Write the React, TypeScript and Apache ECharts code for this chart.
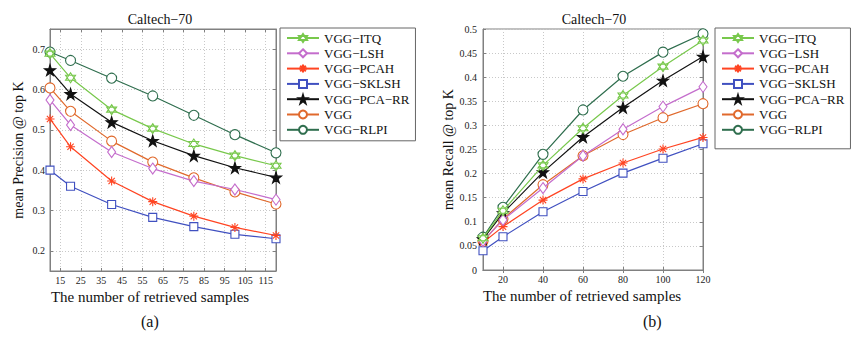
import React, { useEffect, useRef } from "react";
import * as echarts from "echarts";

const names = ["VGG−ITQ", "VGG−LSH", "VGG−PCAH", "VGG−SKLSH", "VGG−PCA−RR", "VGG", "VGG−RLPI"];
const xValues = [10, 20, 40, 60, 80, 100, 120];
const leftXTicks = [15, 25, 35, 45, 55, 65, 75, 85, 95, 105, 115];
const leftYTicks = [0.2, 0.3, 0.4, 0.5, 0.6, 0.7];
const rightXTicks = [20, 40, 60, 80, 100, 120];

const precision: number[][] = [
  [0.689, 0.629, 0.55, 0.503, 0.465, 0.436, 0.411],
  [0.574, 0.512, 0.445, 0.404, 0.373, 0.352, 0.327],
  [0.527, 0.458, 0.373, 0.322, 0.286, 0.258, 0.238],
  [0.4, 0.36, 0.315, 0.283, 0.26, 0.241, 0.23],
  [0.648, 0.589, 0.519, 0.473, 0.436, 0.406, 0.382],
  [0.604, 0.546, 0.472, 0.42, 0.381, 0.346, 0.316],
  [0.693, 0.672, 0.628, 0.584, 0.536, 0.488, 0.443],
];

const recall: number[][] = [
  [0.066, 0.123, 0.217, 0.294, 0.362, 0.422, 0.476],
  [0.06, 0.104, 0.17, 0.237, 0.292, 0.339, 0.38],
  [0.057, 0.09, 0.145, 0.189, 0.222, 0.251, 0.275],
  [0.04, 0.069, 0.121, 0.163, 0.201, 0.232, 0.262],
  [0.064, 0.118, 0.203, 0.276, 0.337, 0.393, 0.443],
  [0.059, 0.106, 0.177, 0.237, 0.281, 0.316, 0.345],
  [0.068, 0.13, 0.24, 0.332, 0.402, 0.452, 0.49],
];

const colors = ["#78c84c", "#c46dcc", "#ff4422", "#4050c0", "#111111", "#e0692c", "#2f6e4e"];

const HEXAGRAM = "path://M5 0 L9.33 7.5 L0.67 7.5 Z M5 10 L0.67 2.5 L9.33 2.5 Z";
const ASTERISK = "path://M5 0 L5 10 M0 5 L10 5 M1.5 1.5 L8.5 8.5 M8.5 1.5 L1.5 8.5";
const PENTAGRAM =
  "path://M5 0 L6.123 3.455 L9.755 3.455 L6.816 5.59 L7.939 9.045 L5 6.91 L2.061 9.045 L3.184 5.59 L0.245 3.455 L3.877 3.455 Z";

const symbols = [HEXAGRAM, "diamond", ASTERISK, "rect", PENTAGRAM, "circle", "circle"];
const symbolSizes: any[] = [10, [8, 11], 9, 8, 11, 10, 10];

const FONT = "Liberation Serif";

export default function App() {
  const ref = useRef<HTMLDivElement>(null);
  useEffect(() => {
    document.body.style.margin = "0";
    const chart = echarts.init(ref.current!, null, { renderer: "svg" });
    const grids = [
      { left: 50, top: 29, width: 226, height: 242 },
      { left: 483, top: 29, width: 220, height: 241 },
    ];
    const axisLine = { show: true, lineStyle: { color: "#808080", width: 1 } };
    const splitLine = { show: true, lineStyle: { color: "#c8c8c8", type: [1, 2], width: 1 } };
    const tick = { inside: true, length: 3, lineStyle: { color: "#808080" } };
    const label = { color: "#222", fontFamily: FONT, fontSize: 10 };
    const nameStyle = { color: "#111", fontFamily: FONT, fontSize: 14 };

    const series: any[] = [];
    [precision, recall].forEach((data, gi) => {
      data.forEach((vals, i) => {
        series.push({
          type: "line",
          name: names[i],
          xAxisIndex: gi,
          yAxisIndex: gi,
          data: xValues.map((x, k) => [x, vals[k]]),
          symbol: symbols[i],
          symbolSize: symbolSizes[i],
          showAllSymbol: true,
          lineStyle: { color: colors[i], width: 1.2 },
          itemStyle: {
            color: i === 4 ? "#111" : "#fff",
            borderColor: colors[i],
            borderWidth: 1.1,
          },
          z: 10 - i,
        });
      });
    });

    const legendBase = {
      orient: "vertical",
      top: 28,
      itemWidth: 32,
      itemHeight: 10,
      itemGap: 1.3,
      borderColor: "#666",
      borderWidth: 1,
      backgroundColor: "#fff",
      data: names,
      textStyle: { color: "#111", fontFamily: FONT, fontSize: 13, lineHeight: 14 },
    };

    const mirrorX = (gi: number, ticks: number[]) => ({
      type: "value", gridIndex: gi, position: "top", min: 10, max: 120,
      axisLine, splitLine: { show: false },
      axisTick: { ...tick, customValues: ticks },
      axisLabel: { show: false, customValues: ticks },
    });

    chart.setOption({
      animation: false,
      backgroundColor: "#fff",
      title: [
        { text: "Caltech−70", left: 155, top: 7, textAlign: "center", textStyle: { fontFamily: FONT, fontSize: 14, fontWeight: "normal", color: "#111" } },
        { text: "Caltech−70", left: 589, top: 7, textAlign: "center", textStyle: { fontFamily: FONT, fontSize: 14, fontWeight: "normal", color: "#111" } },
      ],
      legend: [
        { ...legendBase, left: 280, padding: [3, 6, 4, 6] },
        { ...legendBase, left: 715, padding: [3, 6, 12, 6] },
      ],
      grid: grids.map((g) => ({ ...g, show: true, borderColor: "#808080", borderWidth: 1, backgroundColor: "transparent" })),
      xAxis: [
        {
          type: "value", gridIndex: 0, min: 10, max: 120,
          name: "The number of retrieved samples", nameLocation: "middle", nameGap: 14,
          nameTextStyle: { ...nameStyle, fontSize: 15, padding: [0, 26, 0, 0] },
          axisLine, splitLine,
          axisTick: { ...tick, customValues: leftXTicks },
          axisLabel: { ...label, margin: 4, customValues: leftXTicks },
        },
        {
          type: "value", gridIndex: 1, min: 10, max: 120,
          name: "The number of retrieved samples", nameLocation: "middle", nameGap: 14,
          nameTextStyle: { ...nameStyle, fontSize: 15, padding: [0, 22, 0, 0] },
          axisLine, splitLine,
          axisTick: { ...tick, customValues: rightXTicks },
          axisLabel: { ...label, margin: 4, customValues: rightXTicks },
        },
        mirrorX(0, leftXTicks),
        mirrorX(1, rightXTicks),
      ],
      yAxis: [
        {
          type: "value", gridIndex: 0, min: 0.15, max: 0.75,
          name: "mean Precision @ top K", nameLocation: "middle", nameGap: 25,
          nameTextStyle: { ...nameStyle },
          axisLine, splitLine,
          axisTick: { ...tick, customValues: leftYTicks },
          axisLabel: { ...label, margin: 5, customValues: leftYTicks, formatter: (v: number) => v.toFixed(1) },
        },
        {
          type: "value", gridIndex: 1, min: 0, max: 0.5, interval: 0.05,
          name: "mean Recall @ top K", nameLocation: "middle", nameGap: 28,
          nameTextStyle: { ...nameStyle },
          axisLine, splitLine,
          axisTick: tick,
          axisLabel: { ...label, margin: 6 },
        },
        {
          type: "value", gridIndex: 0, position: "right", min: 0.15, max: 0.75,
          axisLine, splitLine: { show: false },
          axisTick: { ...tick, customValues: leftYTicks },
          axisLabel: { show: false, customValues: leftYTicks },
        },
        {
          type: "value", gridIndex: 1, position: "right", min: 0, max: 0.5, interval: 0.05,
          axisLine, splitLine: { show: false },
          axisTick: tick,
          axisLabel: { show: false },
        },
      ],
      graphic: [
        { type: "text", left: 141, top: 313, style: { text: "(a)", font: `16px ${FONT}`, fill: "#111" } },
        { type: "text", left: 643, top: 313, style: { text: "(b)", font: `16px ${FONT}`, fill: "#111" } },
      ],
      series,
    });
    return () => chart.dispose();
  }, []);
  return <div ref={ref} style={{ width: 858, height: 341, position: "absolute", left: 0, top: 0 }} />;
}
